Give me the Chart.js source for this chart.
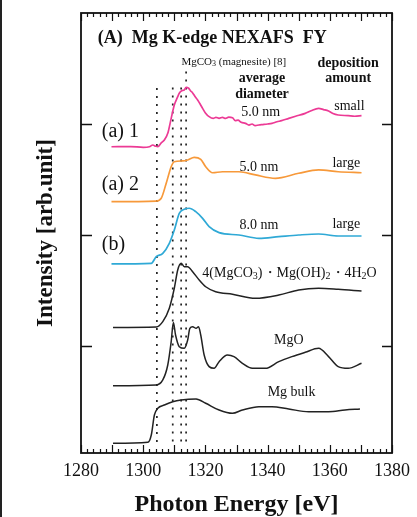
<!DOCTYPE html>
<html>
<head>
<meta charset="utf-8">
<script src="https://cdn.jsdelivr.net/npm/chart.js@4.4.1/dist/chart.umd.min.js"></script>
<style>
  html, body { margin: 0; padding: 0; background: #fff; }
  #wrap { width: 417px; height: 517px; }
</style>
</head>
<body>
<div id="wrap"><canvas id="chart" width="417" height="517"></canvas></div>
<script>
// Mg K-edge NEXAFS (FY) spectra, stacked, arb. units

const xTickLabels = ['1280', '1300', '1320', '1340', '1360', '1380'];

// (a) 1 : 5.0 nm, small deposition
const pinkE = [1289.8, 1296, 1300, 1302.0, 1303.1, 1304.0, 1304.7, 1305.8, 1306.8, 1307.9, 1309.0, 1310.0, 1311.0, 1311.6,
  1312.4, 1313.2, 1313.8, 1314.6, 1315.2, 1315.9, 1316.6, 1317.5, 1318.3, 1319.1, 1320.0, 1321.2, 1322.5, 1323.4,
  1324.4, 1325.5, 1326.5, 1327.5, 1328.7, 1329.6, 1330.5, 1331.5, 1332.9, 1334, 1335, 1336, 1337.2, 1338.5, 1340,
  1341.4, 1343, 1344.5, 1346.8, 1349, 1352.1, 1354, 1356.4, 1358, 1359.6, 1361, 1362.7, 1365.9, 1368, 1370.2];
const pinkI = [2.795, 2.797, 2.79, 2.795, 2.811, 2.80, 2.795, 2.83, 2.856, 2.916, 3.051, 3.171, 3.24, 3.277,
  3.30, 3.306, 3.33, 3.322, 3.30, 3.28, 3.25, 3.216, 3.18, 3.141, 3.10, 3.066, 3.05, 3.06,
  3.051, 3.06, 3.05, 3.062, 3.057, 3.03, 3.035, 3.015, 3.006, 2.99, 3.0, 2.985, 2.991, 2.995, 3.0,
  3.006, 3.02, 3.03, 3.051, 3.07, 3.096, 3.12, 3.141, 3.13, 3.117, 3.095, 3.081, 3.075, 3.07, 3.075];

// (a) 2 : 5.0 nm, large deposition
const orangeE = [1289.8, 1304.2, 1305.8, 1307.4, 1309.0, 1310.0, 1312.7, 1314.3, 1316.4, 1318.5, 1320.1, 1322.3,
  1325.5, 1330.8, 1336.1, 1342.5, 1350.0, 1356.4, 1362.7, 1370.2];
const orangeI = [2.300, 2.306, 2.331, 2.466, 2.615, 2.660, 2.667, 2.676, 2.700, 2.682, 2.615, 2.561,
  2.570, 2.570, 2.541, 2.511, 2.556, 2.586, 2.570, 2.561];

// (b) : 8.0 nm, large deposition
const blueE = [1289.8, 1302.6, 1304.2, 1306.3, 1308.4, 1310.0, 1311.6, 1313.2, 1314.8, 1316.9, 1319.1, 1321.2,
  1324.4, 1330.8, 1337.2, 1343.6, 1350.0, 1356.4, 1362.7, 1370.2];
const blueI = [1.739, 1.745, 1.805, 1.835, 1.925, 2.045, 2.195, 2.232, 2.241, 2.210, 2.150, 2.075,
  2.021, 2.000, 1.970, 1.985, 2.000, 2.009, 1.991, 1.991];

// 4(MgCO3)·Mg(OH)2·4H2O reference
const hydroE = [1290.3, 1304.2, 1306.3, 1308.4, 1310.0, 1311.1, 1312.2, 1313.2, 1314.3, 1315.9, 1318.0, 1320.1,
  1323.3, 1328.7, 1336.1, 1343.6, 1350.0, 1356.4, 1362.7, 1370.2];
const hydroI = [1.167, 1.171, 1.219, 1.340, 1.520, 1.685, 1.745, 1.715, 1.715, 1.669, 1.595, 1.534,
  1.489, 1.466, 1.430, 1.459, 1.505, 1.520, 1.511, 1.495];

// MgO reference
const mgoE = [1290.3, 1304.2, 1306.3, 1307.9, 1309.0, 1309.7, 1310.4, 1311.6, 1313.2, 1314.3, 1315.0, 1315.9,
  1317.0, 1317.8, 1318.5, 1319.6, 1321.2, 1322.8, 1324.4, 1327.1, 1329.2, 1331.9, 1335.1, 1339.3, 1343.6,
  1347.8, 1352.1, 1356.4, 1359.6, 1362.7, 1365.9, 1370.2];
const mgoI = [0.642, 0.649, 0.694, 0.829, 1.039, 1.212, 1.099, 0.994, 0.979, 1.054, 1.159, 1.174,
  1.159, 1.174, 1.099, 0.919, 0.814, 0.799, 0.859, 0.919, 0.904, 0.844, 0.799, 0.799, 0.859,
  0.904, 0.943, 0.979, 0.904, 0.814, 0.799, 0.844];

// Mg bulk reference
const bulkE = [1290.3, 1301.5, 1302.6, 1303.6, 1304.7, 1306.8, 1309.5, 1312.2, 1317.0, 1320.1, 1324.4, 1328.7,
  1331.9, 1337.2, 1341.4, 1346.8, 1353.2, 1359.6, 1364.9, 1369.7];
const bulkI = [0.123, 0.132, 0.198, 0.378, 0.439, 0.468, 0.498, 0.514, 0.523, 0.484, 0.423, 0.393,
  0.423, 0.453, 0.453, 0.432, 0.408, 0.408, 0.423, 0.432];

// dotted reference energies (eV); the last one is MgCO3 (magnesite)
const markerE = [1304.4, 1309.5, 1312.2, 1313.8];
const markerTop = [3.351, 3.351, 3.351, 3.486];
const markerBottom = [0.135, 0.14, 0.14, 0.14];

const SERIF = "'Liberation Serif', 'Times New Roman', serif";

function toPoints(xs, ys) {
  return xs.map((x, i) => ({ x: x, y: ys[i] }));
}

function spectrum(xs, ys, color, width) {
  return {
    data: toPoints(xs, ys),
    borderColor: color,
    borderWidth: width,
    pointRadius: 0,
    fill: false,
    cubicInterpolationMode: 'monotone'
  };
}

const datasets = [
  spectrum(pinkE, pinkI, '#ec3a95', 1.7),
  spectrum(orangeE, orangeI, '#f7993a', 1.7),
  spectrum(blueE, blueI, '#2fa9d6', 1.7),
  spectrum(hydroE, hydroI, '#222', 1.5),
  spectrum(mgoE, mgoI, '#222', 1.5),
  spectrum(bulkE, bulkI, '#222', 1.5)
];

markerE.forEach((e, i) => {
  datasets.push({
    data: [{ x: e, y: markerBottom[i] }, { x: e, y: markerTop[i] }],
    borderColor: '#222',
    borderWidth: 1.7,
    borderDash: [2, 6],
    pointRadius: 0,
    tension: 0
  });
});

// text labels, anchored in data coordinates
const labels = [
  { parts: [['(A)  Mg K-edge NEXAFS  FY']], x: 1285.4, y: 3.775, size: 18, bold: true, align: 'left' },
  { parts: [['MgCO'], ['3', 1], [' (magnesite) [8]']], x: 1312.3, y: 3.559, size: 11, align: 'left' },
  { parts: [['deposition']], x: 1365.9, y: 3.55, size: 14, bold: true, align: 'center' },
  { parts: [['amount']], x: 1365.9, y: 3.414, size: 14, bold: true, align: 'center' },
  { parts: [['average']], x: 1338.2, y: 3.414, size: 14, bold: true, align: 'center' },
  { parts: [['diameter']], x: 1338.2, y: 3.27, size: 14, bold: true, align: 'center' },
  { parts: [['5.0 nm']], x: 1337.8, y: 3.108, size: 14, align: 'center' },
  { parts: [['small']], x: 1366.3, y: 3.162, size: 14, align: 'center' },
  { parts: [['5.0 nm']], x: 1337.2, y: 2.613, size: 14, align: 'center' },
  { parts: [['large']], x: 1365.3, y: 2.649, size: 14, align: 'center' },
  { parts: [['8.0 nm']], x: 1337.2, y: 2.09, size: 14, align: 'center' },
  { parts: [['large']], x: 1365.3, y: 2.099, size: 14, align: 'center' },
  { parts: [['4(MgCO'], ['3', 1], [')・Mg(OH)'], ['2', 1], ['・4H'], ['2', 1], ['O']], x: 1319.0, y: 1.658, size: 14, align: 'left' },
  { parts: [['MgO']], x: 1346.8, y: 1.054, size: 14, align: 'center' },
  { parts: [['Mg bulk']], x: 1347.7, y: 0.586, size: 14, align: 'center' },
  { parts: [['(a) 1']], x: 1286.7, y: 2.928, size: 20, align: 'left' },
  { parts: [['(a) 2']], x: 1286.7, y: 2.45, size: 20, align: 'left' },
  { parts: [['(b)']], x: 1286.7, y: 1.91, size: 20, align: 'left' }
];

function fontFor(size, bold) {
  return (bold ? 'bold ' : '') + size + 'px ' + SERIF;
}

const framePlugin = {
  id: 'frame',
  afterDraw(chart) {
    const ctx = chart.ctx;
    const a = chart.chartArea;
    const xs = chart.scales.x;
    const ys = chart.scales.y;
    ctx.save();

    // left border of the figure
    ctx.fillStyle = '#222';
    ctx.fillRect(0, 0, 2, chart.height);

    // plot frame
    ctx.strokeStyle = '#111';
    ctx.lineWidth = 1.8;
    ctx.strokeRect(a.left, a.top, a.right - a.left, a.bottom - a.top);

    // inward ticks on top and bottom
    ctx.lineWidth = 1.2;
    for (let e = xs.min; e <= xs.max + 0.001; e += 2) {
      const px = Math.round(xs.getPixelForValue(e)) + 0.5;
      const len = (Math.round(e) % 10 === 0) ? 8 : 4;
      ctx.beginPath();
      ctx.moveTo(px, a.bottom);
      ctx.lineTo(px, a.bottom - len);
      ctx.moveTo(px, a.top);
      ctx.lineTo(px, a.top + len);
      ctx.stroke();
    }
    // inward ticks on left and right
    ctx.lineWidth = 1.6;
    [1, 2, 3].forEach(v => {
      const py = Math.round(ys.getPixelForValue(v)) + 0.5;
      ctx.beginPath();
      ctx.moveTo(a.left, py);
      ctx.lineTo(a.left + 11, py);
      ctx.moveTo(a.right, py);
      ctx.lineTo(a.right - 10, py);
      ctx.stroke();
    });

    // labels
    ctx.fillStyle = '#111';
    ctx.textBaseline = 'middle';
    labels.forEach(l => {
      const px = xs.getPixelForValue(l.x);
      const py = ys.getPixelForValue(l.y);
      let total = 0;
      const widths = l.parts.map(p => {
        ctx.font = fontFor(p[1] ? Math.round(l.size * 0.7) : l.size, l.bold);
        const w = ctx.measureText(p[0]).width;
        total += w;
        return w;
      });
      let cx = l.align === 'center' ? px - total / 2 : px;
      ctx.textAlign = 'left';
      l.parts.forEach((p, i) => {
        ctx.font = fontFor(p[1] ? Math.round(l.size * 0.7) : l.size, l.bold);
        ctx.fillText(p[0], cx, p[1] ? py + l.size * 0.22 : py);
        cx += widths[i];
      });
    });
    ctx.restore();
  }
};

new Chart(document.getElementById('chart').getContext('2d'), {
  type: 'line',
  data: { datasets: datasets },
  options: {
    responsive: false,
    animation: false,
    events: [],
    layout: { padding: { top: 13, right: 23, left: 0, bottom: 0 } },
    plugins: { legend: { display: false }, tooltip: { enabled: false } },
    scales: {
      x: {
        type: 'linear',
        min: 1280,
        max: 1380,
        grid: { display: false, drawTicks: false },
        border: { display: false },
        ticks: {
          stepSize: 20,
          padding: 7,
          color: '#111',
          font: { family: SERIF, size: 18 },
          callback: (v) => xTickLabels.includes(String(v)) ? String(v) : ''
        },
        title: {
          display: true,
          text: 'Photon Energy [eV]',
          color: '#111',
          font: { family: SERIF, size: 24, weight: 'bold', lineHeight: 1 },
          padding: { top: 0, bottom: 0 }
        },
        afterFit(scale) { scale.height = 64; }
      },
      y: {
        type: 'linear',
        min: 0.036,
        max: 4,
        grid: { display: false, drawTicks: false },
        border: { display: false },
        ticks: { display: false },
        title: {
          display: true,
          text: 'Intensity [arb.unit]',
          color: '#111',
          font: { family: SERIF, size: 23, weight: 'bold', lineHeight: 1 },
          padding: { top: 35, bottom: 0 }
        },
        afterFit(scale) { scale.width = 81; }
      }
    }
  },
  plugins: [framePlugin]
});
</script>
</body>
</html>
